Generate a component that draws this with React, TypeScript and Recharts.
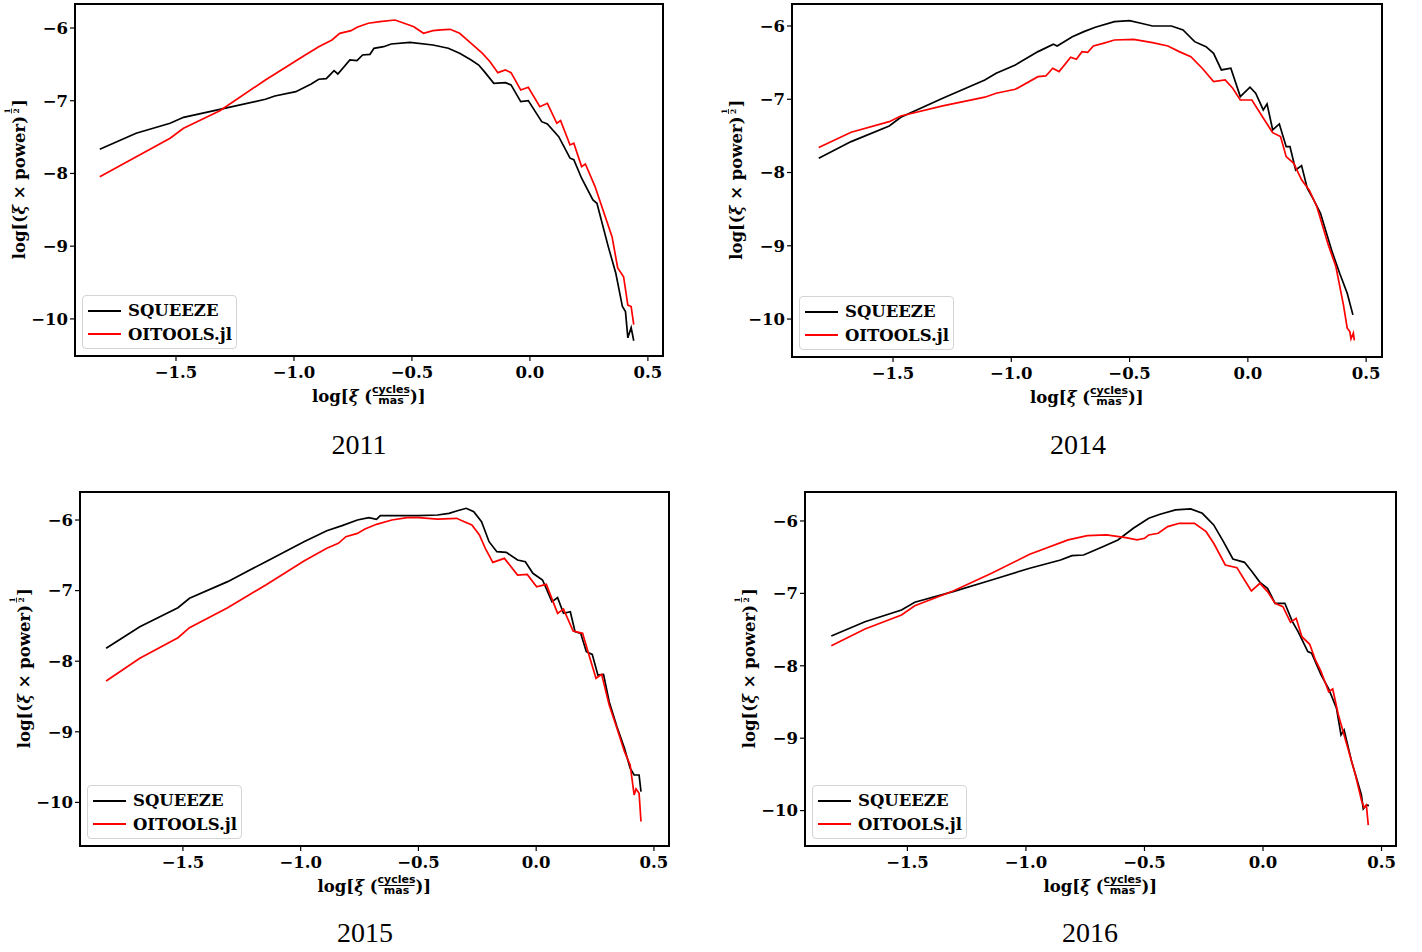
import React from 'react';
import { LineChart, Line, XAxis, YAxis, ReferenceArea, Legend } from 'recharts';

type Pt = [number, number];

const xTicks = [-1.5, -1.0, -0.5, 0.0, 0.5];
const yTicks = [-10, -9, -8, -7, -6];
const seriesNames = ['SQUEEZE', 'OITOOLS.jl'];

// [log xi, log(xi * power)^1/2]
const squeeze2011: Pt[] = [
  [-1.823, -7.667], [-1.669, -7.448], [-1.525, -7.31], [-1.468, -7.228], [-1.314, -7.118], [-1.121, -6.98],
  [-1.081, -6.935], [-0.992, -6.875], [-0.927, -6.77], [-0.895, -6.705], [-0.863, -6.697], [-0.83, -6.587],
  [-0.814, -6.632], [-0.763, -6.44], [-0.733, -6.449], [-0.709, -6.371], [-0.678, -6.362], [-0.661, -6.279],
  [-0.62, -6.257], [-0.588, -6.22], [-0.508, -6.197], [-0.411, -6.234], [-0.346, -6.279], [-0.298, -6.348],
  [-0.249, -6.44], [-0.217, -6.509], [-0.193, -6.6], [-0.153, -6.76], [-0.104, -6.752], [-0.08, -6.783],
  [-0.039, -7.013], [-0.007, -6.999], [0.05, -7.288], [0.074, -7.32], [0.122, -7.494], [0.17, -7.79],
  [0.186, -7.81], [0.219, -8.066], [0.267, -8.364], [0.284, -8.41], [0.332, -9.006], [0.364, -9.372],
  [0.392, -9.83], [0.405, -9.9], [0.415, -10.26], [0.429, -10.12], [0.44, -10.3],
];
const oitools2011: Pt[] = [
  [-1.823, -8.044], [-1.525, -7.516], [-1.468, -7.379], [-1.314, -7.137], [-1.121, -6.715], [-0.959, -6.385],
  [-0.895, -6.257], [-0.839, -6.165], [-0.806, -6.073], [-0.758, -6.037], [-0.733, -5.99], [-0.685, -5.935],
  [-0.636, -5.913], [-0.572, -5.89], [-0.524, -5.945], [-0.492, -5.982], [-0.451, -6.073], [-0.411, -6.037],
  [-0.378, -6.027], [-0.338, -6.018], [-0.298, -6.073], [-0.249, -6.21], [-0.201, -6.348], [-0.169, -6.463],
  [-0.136, -6.614], [-0.104, -6.577], [-0.08, -6.614], [-0.039, -6.852], [-0.007, -6.815], [0.042, -7.082],
  [0.074, -7.035], [0.114, -7.31], [0.13, -7.274], [0.17, -7.608], [0.186, -7.585], [0.219, -7.906],
  [0.235, -7.87], [0.276, -8.18], [0.3, -8.41], [0.348, -8.869], [0.372, -9.3], [0.397, -9.42],
  [0.415, -9.81], [0.429, -9.83], [0.44, -10.08],
];

const squeeze2014: Pt[] = [
  [-1.814, -7.806], [-1.677, -7.578], [-1.516, -7.364], [-1.467, -7.246], [-1.29, -6.986], [-1.112, -6.737],
  [-1.064, -6.645], [-0.983, -6.532], [-0.887, -6.35], [-0.822, -6.25], [-0.806, -6.273], [-0.742, -6.146],
  [-0.693, -6.077], [-0.645, -6.018], [-0.564, -5.941], [-0.5, -5.927], [-0.452, -5.963], [-0.403, -6.0],
  [-0.323, -6.0], [-0.274, -6.055], [-0.225, -6.214], [-0.177, -6.282], [-0.145, -6.373], [-0.112, -6.6],
  [-0.072, -6.577], [-0.032, -6.964], [0.009, -6.836], [0.033, -6.918], [0.065, -7.146], [0.081, -7.064],
  [0.105, -7.419], [0.133, -7.337], [0.162, -7.647], [0.178, -7.647], [0.202, -7.965], [0.227, -7.906],
  [0.251, -8.215], [0.275, -8.352], [0.307, -8.557], [0.356, -9.08], [0.388, -9.374], [0.42, -9.647],
  [0.444, -9.943],
];
const oitools2014: Pt[] = [
  [-1.814, -7.66], [-1.677, -7.45], [-1.516, -7.306], [-1.467, -7.228], [-1.29, -7.091], [-1.112, -6.972],
  [-1.064, -6.918], [-0.983, -6.864], [-0.887, -6.692], [-0.854, -6.682], [-0.825, -6.577], [-0.798, -6.623],
  [-0.749, -6.427], [-0.725, -6.455], [-0.701, -6.35], [-0.677, -6.36], [-0.653, -6.273], [-0.612, -6.237],
  [-0.564, -6.191], [-0.483, -6.182], [-0.403, -6.228], [-0.338, -6.273], [-0.29, -6.35], [-0.241, -6.419],
  [-0.193, -6.577], [-0.145, -6.76], [-0.096, -6.737], [-0.064, -6.85], [-0.032, -7.01], [0.017, -7.01],
  [0.065, -7.255], [0.105, -7.456], [0.138, -7.51], [0.162, -7.783], [0.194, -7.874], [0.227, -8.1],
  [0.259, -8.237], [0.291, -8.46], [0.34, -8.988], [0.372, -9.283], [0.404, -9.806], [0.42, -10.125],
  [0.431, -10.17], [0.436, -10.27], [0.446, -10.19], [0.45, -10.29],
];

const squeeze2015: Pt[] = [
  [-1.826, -7.817], [-1.683, -7.511], [-1.521, -7.242], [-1.472, -7.109], [-1.31, -6.873], [-1.148, -6.59],
  [-0.986, -6.307], [-0.889, -6.151], [-0.824, -6.08], [-0.759, -6.0], [-0.711, -5.967], [-0.678, -5.99],
  [-0.662, -5.939], [-0.581, -5.939], [-0.5, -5.939], [-0.419, -5.929], [-0.37, -5.906], [-0.338, -5.873],
  [-0.297, -5.834], [-0.265, -5.882], [-0.232, -6.024], [-0.2, -6.307], [-0.167, -6.449], [-0.127, -6.458],
  [-0.079, -6.567], [-0.046, -6.59], [-0.014, -6.755], [0.027, -6.85], [0.067, -7.157], [0.091, -7.1],
  [0.116, -7.322], [0.145, -7.299], [0.165, -7.582], [0.189, -7.605], [0.213, -7.865], [0.238, -7.903],
  [0.262, -8.196], [0.286, -8.186], [0.31, -8.574], [0.343, -8.928], [0.375, -9.234], [0.399, -9.517],
  [0.416, -9.612], [0.437, -9.612], [0.445, -9.848],
];
const oitools2015: Pt[] = [
  [-1.826, -8.28], [-1.683, -7.959], [-1.521, -7.667], [-1.472, -7.525], [-1.31, -7.242], [-1.148, -6.92],
  [-0.986, -6.58], [-0.889, -6.401], [-0.84, -6.33], [-0.808, -6.236], [-0.759, -6.189], [-0.727, -6.127],
  [-0.678, -6.061], [-0.613, -6.0], [-0.548, -5.967], [-0.5, -5.967], [-0.419, -5.986], [-0.338, -5.976],
  [-0.305, -6.024], [-0.273, -6.071], [-0.241, -6.212], [-0.216, -6.401], [-0.184, -6.6], [-0.135, -6.543],
  [-0.079, -6.779], [-0.038, -6.77], [0.002, -6.945], [0.043, -6.911], [0.091, -7.322], [0.116, -7.261],
  [0.157, -7.572], [0.197, -7.605], [0.222, -7.888], [0.254, -8.242], [0.278, -8.186], [0.31, -8.621],
  [0.343, -8.951], [0.375, -9.282], [0.399, -9.47], [0.416, -9.895], [0.424, -9.81], [0.437, -9.87],
  [0.445, -10.27],
];

const squeeze2016: Pt[] = [
  [-1.821, -7.588], [-1.679, -7.391], [-1.525, -7.229], [-1.469, -7.123], [-1.307, -6.976], [-1.145, -6.815],
  [-0.984, -6.653], [-0.854, -6.539], [-0.806, -6.479], [-0.757, -6.47], [-0.725, -6.424], [-0.676, -6.355],
  [-0.612, -6.262], [-0.547, -6.101], [-0.482, -5.963], [-0.434, -5.908], [-0.369, -5.848], [-0.305, -5.834],
  [-0.256, -5.894], [-0.208, -6.055], [-0.167, -6.286], [-0.127, -6.525], [-0.078, -6.571], [-0.046, -6.7],
  [-0.013, -6.847], [0.019, -6.93], [0.051, -7.137], [0.092, -7.137], [0.124, -7.391], [0.148, -7.529],
  [0.189, -7.805], [0.205, -7.827], [0.245, -8.127], [0.277, -8.32], [0.31, -8.587], [0.329, -8.956],
  [0.342, -8.887], [0.374, -9.324], [0.399, -9.601], [0.415, -9.785], [0.423, -9.978], [0.436, -9.923],
  [0.447, -9.932],
];
const oitools2016: Pt[] = [
  [-1.821, -7.722], [-1.679, -7.492], [-1.525, -7.298], [-1.469, -7.17], [-1.307, -6.967], [-1.145, -6.722],
  [-0.984, -6.46], [-0.822, -6.262], [-0.741, -6.203], [-0.66, -6.193], [-0.579, -6.23], [-0.531, -6.262],
  [-0.499, -6.239], [-0.482, -6.193], [-0.442, -6.17], [-0.402, -6.078], [-0.353, -6.032], [-0.289, -6.032],
  [-0.24, -6.148], [-0.208, -6.308], [-0.159, -6.608], [-0.11, -6.645], [-0.078, -6.815], [-0.049, -6.967],
  [-0.013, -6.861], [0.019, -6.976], [0.051, -7.137], [0.084, -7.183], [0.116, -7.4], [0.14, -7.344],
  [0.164, -7.598], [0.197, -7.703], [0.221, -7.92], [0.245, -8.081], [0.277, -8.358], [0.294, -8.32],
  [0.318, -8.68], [0.358, -9.14], [0.39, -9.508], [0.415, -9.854], [0.426, -9.96], [0.436, -9.923],
  [0.444, -10.2],
];

const Y_AXIS_W = 80;
const TOP = 10;
const RIGHT = 20;
const X_AXIS_H = 60;

const serif = 'DejaVu Serif';
const tickStyle = { fill: '#000', fontSize: 16.5, fontWeight: 'bold', fontFamily: serif };

const minus = (v: number, digits: number) =>
  (v < 0 ? '\u2212' : '') + Math.abs(v).toFixed(digits);

const toRows = (pts: Pt[]) => pts.map(([x, y]) => ({ x, y }));

interface Box {
  left: number;
  top: number;
  width: number;
  height: number;
}

const XTitle = ({ cx, y }: { cx: number; y: number }) => (
  <g transform={`translate(${cx}, ${y})`} fontFamily={serif} fontWeight="bold" fill="#000">
    <text x={3} y={0} fontSize={16.5} textAnchor="end">
      log[<tspan fontStyle="italic">ξ</tspan> (
    </text>
    <text x={22} y={-9.5} fontSize={11} textAnchor="middle" fontFamily="DejaVu Sans">cycles</text>
    <line x1={4} x2={40} y1={-6.5} y2={-6.5} stroke="#000" strokeWidth={1} />
    <text x={22} y={2} fontSize={11} textAnchor="middle" fontFamily="DejaVu Sans">mas</text>
    <text x={41} y={0} fontSize={16.5}>)]</text>
  </g>
);

const YTitle = ({ x, cy }: { x: number; cy: number }) => (
  <g transform={`translate(${x}, ${cy}) rotate(-90)`} fontFamily={serif} fontWeight="bold" fill="#000">
    <text x={64} y={6} fontSize={16.5} textAnchor="end">
      log[(<tspan fontStyle="italic">ξ</tspan> × power)
    </text>
    <text x={69} y={-9} fontSize={7.5} textAnchor="middle">1</text>
    <line x1={66.5} x2={71.5} y1={-7.5} y2={-7.5} stroke="#000" strokeWidth={0.8} />
    <text x={69} y={-0.5} fontSize={7.5} textAnchor="middle">2</text>
    <text x={73} y={6} fontSize={16.5}>]</text>
  </g>
);

const LegendBox = ({ payload }: any) => {
  const items = [...(payload || [])].sort(
    (a: any, b: any) => seriesNames.indexOf(a.value) - seriesNames.indexOf(b.value)
  );
  return (
    <div
      style={{
        position: 'relative',
        width: 155,
        height: 54,
        boxSizing: 'border-box',
        border: '1px solid #d4d4d4',
        borderRadius: 4,
        background: 'rgba(255,255,255,0.85)',
      }}
    >
      {items.map((e: any, i: number) => (
        <div
          key={e.value}
          style={{ position: 'absolute', left: 5, top: 3 + i * 23.5, height: 23, display: 'flex', alignItems: 'center' }}
        >
          <svg width={33} height={4} style={{ display: 'block' }}>
            <line x1={0} y1={2} x2={33} y2={2} stroke={e.color} strokeWidth={2} />
          </svg>
          <span
            style={{
              marginLeft: 7,
              fontFamily: serif,
              fontWeight: 'bold',
              fontSize: 16.5,
              color: '#000',
              lineHeight: '23px',
              whiteSpace: 'nowrap',
            }}
          >
            {e.value}
          </span>
        </div>
      ))}
    </div>
  );
};

interface PanelProps {
  title: string;
  box: Box;
  xDomain: [number, number];
  yDomain: [number, number];
  squeeze: Pt[];
  oitools: Pt[];
  captionX: number;
  captionY: number;
}

const Panel: React.FC<PanelProps> = ({ title, box, xDomain, yDomain, squeeze, oitools, captionX, captionY }) => {
  const w = box.width + Y_AXIS_W + RIGHT;
  const h = box.height + TOP + X_AXIS_H;
  return (
    <>
      <div style={{ position: 'absolute', left: box.left - Y_AXIS_W, top: box.top - TOP }}>
        <LineChart width={w} height={h} margin={{ top: TOP, right: RIGHT, bottom: 0, left: 0 }}>
          <XAxis
            type="number"
            dataKey="x"
            domain={xDomain}
            allowDataOverflow
            ticks={xTicks}
            interval={0}
            tickFormatter={(v: number) => minus(v, 1)}
            height={X_AXIS_H}
            axisLine={false}
            tickSize={5}
            tickMargin={5}
            tickLine={{ stroke: '#000', strokeWidth: 1.2 }}
            tick={tickStyle}
            label={() => <XTitle cx={Y_AXIS_W + box.width / 2} y={TOP + box.height + 46} />}
          />
          <YAxis
            type="number"
            domain={yDomain}
            allowDataOverflow
            ticks={yTicks}
            interval={0}
            tickFormatter={(v: number) => minus(v, 0)}
            width={Y_AXIS_W}
            axisLine={false}
            tickSize={5}
            tickMargin={2}
            tickLine={{ stroke: '#000', strokeWidth: 1.2 }}
            tick={tickStyle}
            label={() => <YTitle x={Y_AXIS_W - 56} cy={TOP + box.height / 2} />}
          />
          <ReferenceArea
            x1={xDomain[0]}
            x2={xDomain[1]}
            y1={yDomain[0]}
            y2={yDomain[1]}
            fill="none"
            stroke="#000"
            strokeWidth={2}
            ifOverflow="visible"
          />
          <Line
            data={toRows(squeeze)}
            dataKey="y"
            name="SQUEEZE"
            type="linear"
            stroke="#000000"
            strokeWidth={1.7}
            dot={false}
            activeDot={false}
            isAnimationActive={false}
          />
          <Line
            data={toRows(oitools)}
            dataKey="y"
            name="OITOOLS.jl"
            type="linear"
            stroke="#ff0000"
            strokeWidth={1.7}
            dot={false}
            activeDot={false}
            isAnimationActive={false}
          />
          <Legend
            layout="vertical"
            align="center"
            verticalAlign="middle"
            width={155}
            height={54}
            wrapperStyle={{ left: Y_AXIS_W + 7, top: TOP + box.height - 7 - 54, width: 155, height: 54 }}
            content={LegendBox}
          />
        </LineChart>
      </div>
      <div
        style={{
          position: 'absolute',
          left: captionX - 60,
          width: 120,
          top: captionY - 17,
          textAlign: 'center',
          fontFamily: 'Liberation Serif',
          fontSize: 28,
          lineHeight: '34px',
          color: '#000',
        }}
      >
        {title}
      </div>
    </>
  );
};

const App: React.FC = () => (
  <div style={{ position: 'absolute', left: 0, top: 0, width: 1422, height: 952, background: '#fff' }}>
    <Panel
      title="2011"
      box={{ left: 75, top: 4, width: 588, height: 352 }}
      xDomain={[-1.928, 0.564]}
      yDomain={[-10.51, -5.67]}
      squeeze={squeeze2011}
      oitools={oitools2011}
      captionX={359}
      captionY={445}
    />
    <Panel
      title="2014"
      box={{ left: 792, top: 4, width: 590, height: 353 }}
      xDomain={[-1.927, 0.567]}
      yDomain={[-10.518, -5.7]}
      squeeze={squeeze2014}
      oitools={oitools2014}
      captionX={1078}
      captionY={445}
    />
    <Panel
      title="2015"
      box={{ left: 80, top: 492, width: 589, height: 354 }}
      xDomain={[-1.937, 0.564]}
      yDomain={[-10.618, -5.603]}
      squeeze={squeeze2015}
      oitools={oitools2015}
      captionX={365}
      captionY={933}
    />
    <Panel
      title="2016"
      box={{ left: 805, top: 492, width: 591, height: 354 }}
      xDomain={[-1.932, 0.561]}
      yDomain={[-10.489, -5.6]}
      squeeze={squeeze2016}
      oitools={oitools2016}
      captionX={1090}
      captionY={933}
    />
  </div>
);

export default App;
